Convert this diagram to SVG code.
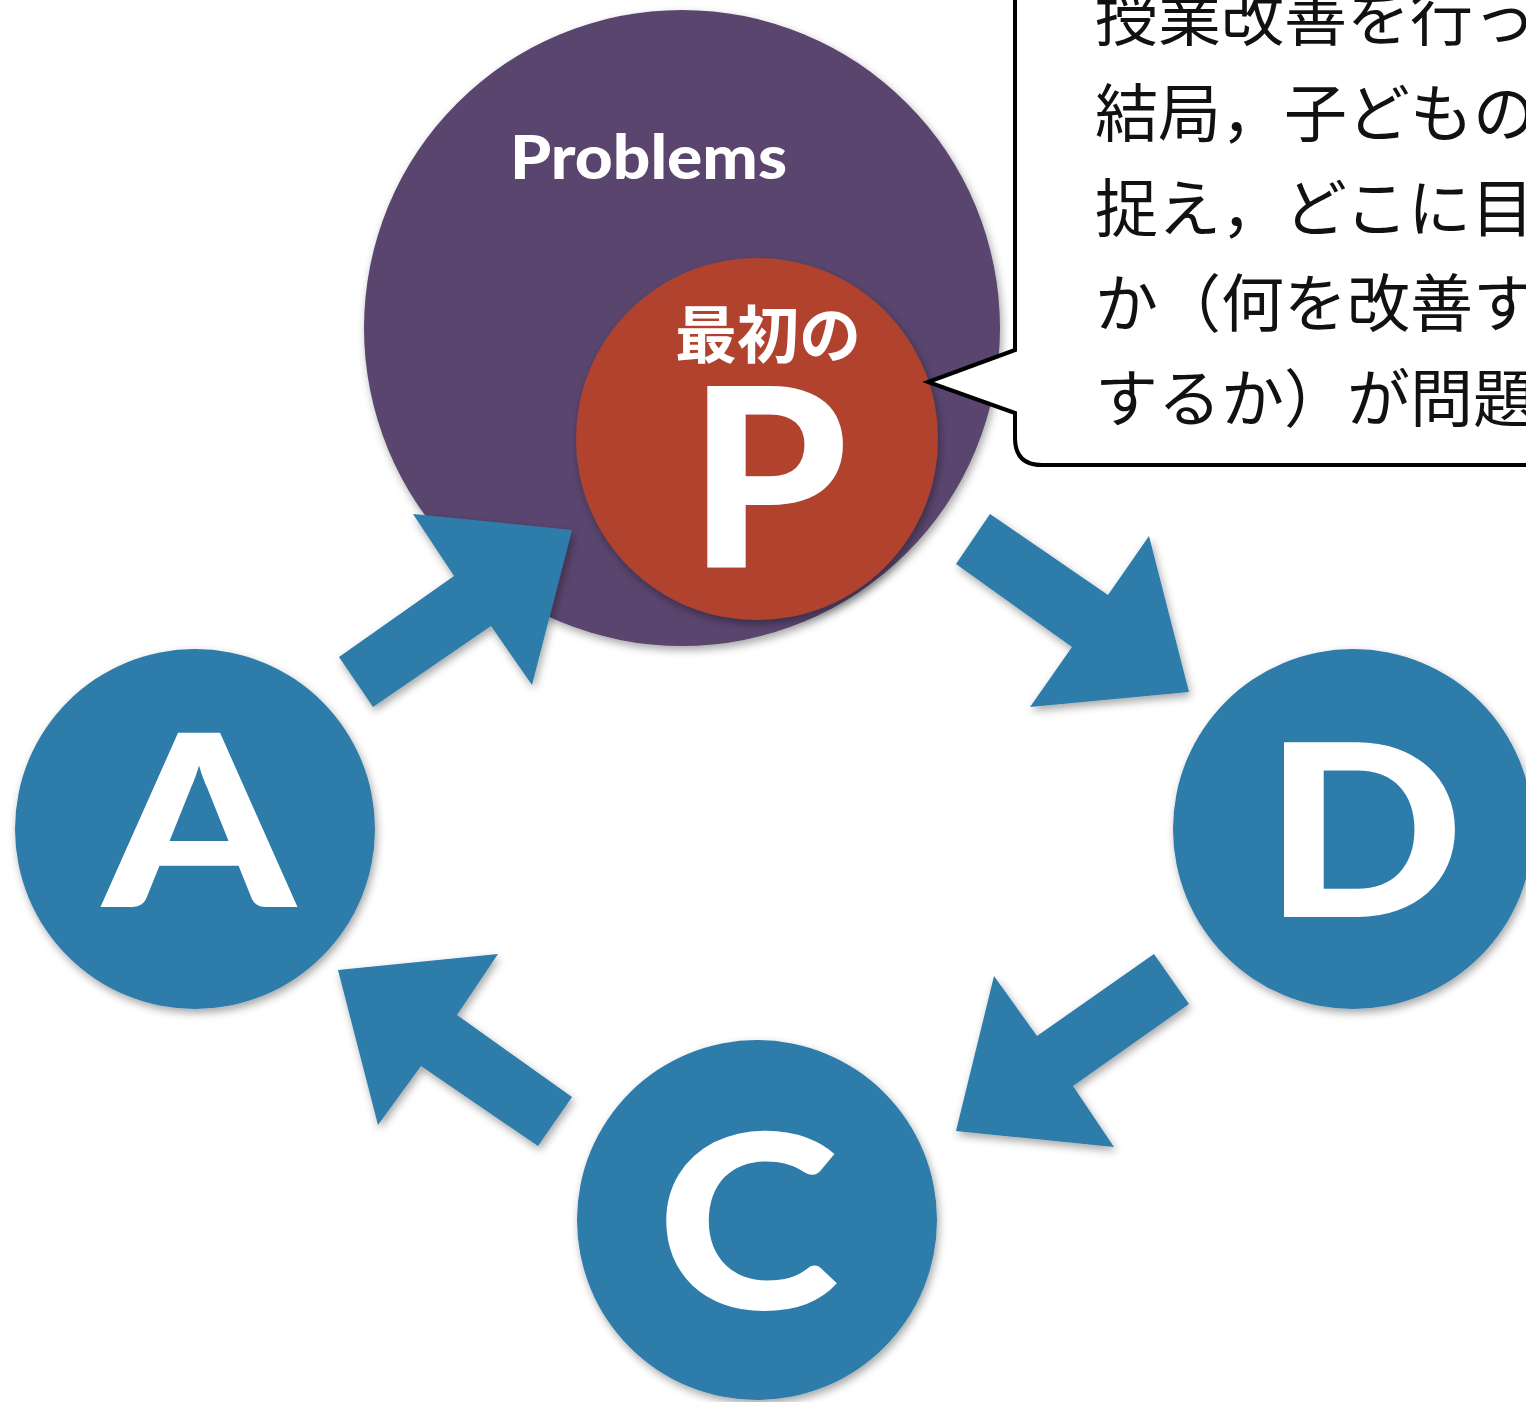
<svg xmlns="http://www.w3.org/2000/svg" width="1526" height="1402" viewBox="0 0 1526 1402">
<style>
.blue{fill:#2e7baa;}
.letter{font-family:Lato,"Open Sans","Liberation Sans",sans-serif;font-weight:900;fill:#ffffff;text-anchor:middle;}
.jp{font-family:"Noto Sans CJK JP","Noto Sans",sans-serif;font-size:63px;fill:#111111;}
</style>
<defs>
<filter id="sh" x="-20%" y="-20%" width="140%" height="140%">
<feDropShadow dx="2" dy="4" stdDeviation="4" flood-color="#000" flood-opacity="0.35"/>
</filter>
</defs>
<rect width="1526" height="1402" fill="#ffffff"/>

<g id="problems">
<circle cx="682" cy="328" r="318" fill="#5a456e" filter="url(#sh)"/>
<text x="510" y="179" font-family="Lato,'Open Sans',sans-serif" font-weight="900" font-size="61" fill="#ffffff" textLength="277" lengthAdjust="spacingAndGlyphs">Problems</text>
</g>

<g id="node-P">
<circle cx="757" cy="439" r="181" fill="#b0432f" filter="url(#sh)"/>
<text x="768" y="358" font-family="Noto Sans CJK JP,sans-serif" font-weight="700" font-size="62" fill="#ffffff" text-anchor="middle">最初の</text>
<text x="776" y="567" class="letter" font-size="250" transform="translate(768,0) scale(1.02,1) translate(-776,0)">P</text>
</g>

<g id="node-A">
<circle cx="195" cy="829" r="180" class="blue" filter="url(#sh)"/>
<text x="0" y="907" class="letter" font-size="240" transform="translate(199,0) scale(1.14,1)">A</text>
</g>

<g id="node-D">
<circle cx="1353" cy="829" r="180" class="blue" filter="url(#sh)"/>
<text x="0" y="917" class="letter" font-size="241" transform="translate(1364,0) scale(1.09,1)">D</text>
</g>

<g id="node-C">
<circle cx="757" cy="1220" r="180" class="blue" filter="url(#sh)"/>
<text x="0" y="1309" class="letter" font-size="243" transform="translate(748,0) scale(1.14,1)">C</text>
</g>

<g id="connectors" class="blue" filter="url(#sh)">
<polygon points="339,657 373,707 491,626 532,685 572,530 413,514 454,576"/>
<polygon points="990,514 956,564 1072,647 1030,707 1189,692 1149,536 1108,595"/>
<polygon points="1154,954 1189,1004 1073,1086 1114,1147 956,1131 994,976 1037,1036"/>
<polygon points="538,1146 572,1097 457,1015 498,954 338,970 378,1125 421,1066"/>
</g>

<g id="callout">
<path d="M1015,-10 V350 L928,382 L1015,413 V438 Q1015,465 1042,465 H1540 V-10" fill="#ffffff" stroke="#000000" stroke-width="4" stroke-linejoin="miter"/>
<text class="jp" x="1095" y="40">授業改善を行っ</text>
<text class="jp" x="1095" y="136">結局，子どもの</text>
<text class="jp" x="1095" y="231">捉え，どこに目</text>
<text class="jp" x="1095" y="326">か（何を改善す</text>
<text class="jp" x="1095" y="421">するか）が問題</text>
</g>
</svg>
